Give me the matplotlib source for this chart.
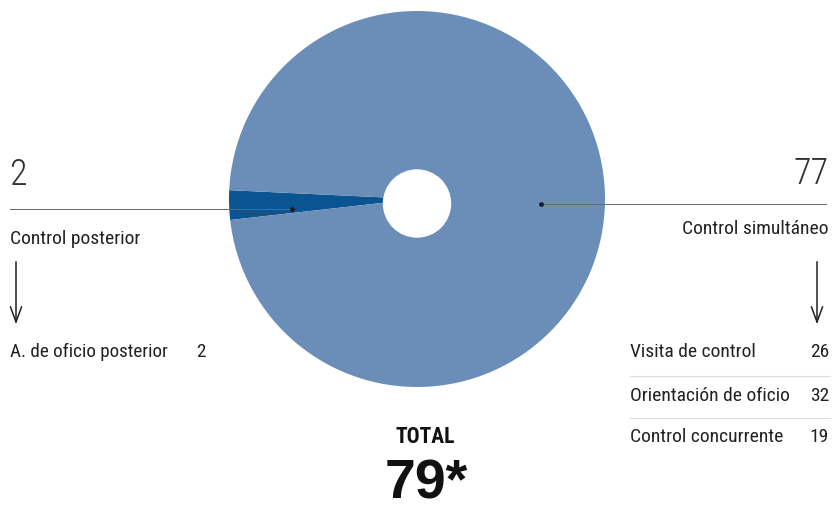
import matplotlib
matplotlib.use("Agg")
import matplotlib.pyplot as plt
from matplotlib.lines import Line2D

categories = ["Control posterior", "Control simultáneo"]
values = [2, 77]
sub_left_labels = ["A. de oficio posterior"]
sub_left_values = [2]
sub_right_labels = ["Visita de control", "Orientación de oficio", "Control concurrente"]
sub_right_values = [26, 32, 19]
total_label = "TOTAL"
total_value = "79*"

colors = ["#0a5591", "#6a8eb8"]
FONT = ["Roboto Condensed", "Archivo Narrow", "IBM Plex Sans Condensed", "DejaVu Sans"]
BIG = ["Liberation Sans", "Arimo", "DejaVu Sans"]
W, H = 834, 511
fig = plt.figure(figsize=(W / 100, H / 100), dpi=100)

def fx(x):
    return x / W

def fy(y):
    return 1 - y / H

# pie axes
cx, cy, r = 417, 199, 188
ax = fig.add_axes([fx(cx - r), fy(cy + r), 2 * r / W, 2 * r / H])
ax.pie(values, colors=colors, startangle=177.3, counterclock=True,
       radius=1, wedgeprops=dict(linewidth=0))
ax.add_patch(plt.Circle((0, -4.5 / r), 33.5 / r, color="white", zorder=5))
ax.set_xlim(-1, 1)
ax.set_ylim(-1, 1)
ax.set_aspect("auto")
ax.axis("off")

def hline(x0, x1, y, color="#666666", lw=0.7):
    fig.add_artist(Line2D([fx(x0), fx(x1)], [fy(y), fy(y)], color=color, lw=lw,
                          transform=fig.transFigure, zorder=10))

def dot(x, y):
    fig.add_artist(Line2D([fx(x)], [fy(y)], marker="o", ms=2.4, color="#1a1a2a",
                          transform=fig.transFigure, zorder=11))

def txt(x, y, s, size, ha="left", weight="normal", color="#222222", family=FONT, va="center"):
    fig.text(fx(x), fy(y), s, fontsize=size, ha=ha, va=va,
             family=family, weight=weight, color=color)

def arrow(x, y0, y1):
    fig.add_artist(Line2D([fx(x), fx(x)], [fy(y0), fy(y1)], color="#222222", lw=1.1,
                          transform=fig.transFigure))
    fig.add_artist(Line2D([fx(x - 5.5), fx(x), fx(x + 5.5)], [fy(y1 - 15), fy(y1), fy(y1 - 15)],
                          color="#222222", lw=1.1, transform=fig.transFigure))

# left side
txt(9, 175, str(values[0]), 26, weight="light", color="#333333")
hline(10, 292, 209)
dot(292, 209)
txt(10, 239, categories[0], 14)
arrow(16, 262, 322)
txt(10, 352, sub_left_labels[0], 13.8)
txt(196, 352, str(sub_left_values[0]), 13.8)

# right side
txt(829, 174, str(values[1]), 26, ha="right", weight="light", color="#333333")
hline(541, 826, 204)
dot(541, 204)
txt(829, 229, categories[1], 14, ha="right")
arrow(817, 262, 322)
row_y = [352, 396, 437]
for i, (lab, v) in enumerate(zip(sub_right_labels, sub_right_values)):
    txt(630, row_y[i], lab, 14)
    txt(829, row_y[i], str(v), 14, ha="right")
for y in [376, 418]:
    hline(630, 830, y, color="#dddddd", lw=0.8)

# total
txt(425, 437, total_label, 15.5, ha="center", weight="bold", color="#111111")
txt(426, 510.5, total_value, 40, ha="center", weight="bold", color="#111111",
    family=BIG, va="bottom")

fig.savefig("out.png", dpi=100, facecolor="white")
